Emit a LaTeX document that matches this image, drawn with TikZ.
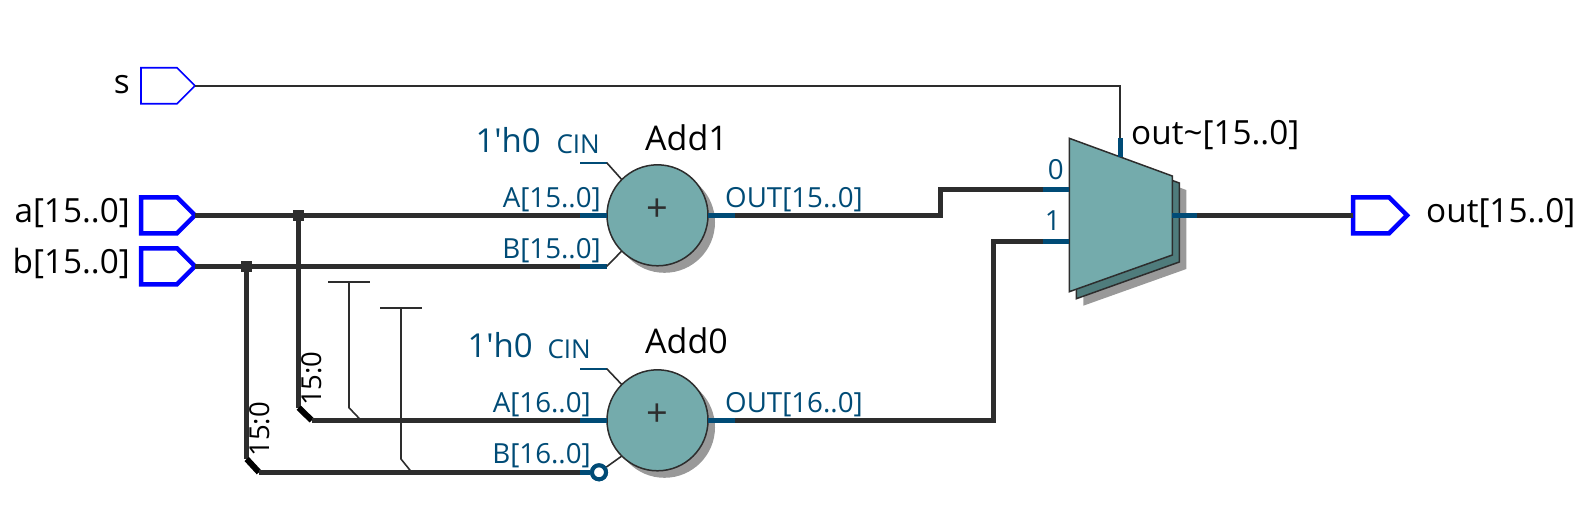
\documentclass[tikz,border=0pt]{standalone}
\usepackage{fontspec}
\setmainfont{Open Sans}
\usepackage{xcolor}
\definecolor{clPort}{HTML}{0000FF}
\definecolor{clPin}{HTML}{004B76}
\definecolor{clWire}{HTML}{2D2D2D}
\definecolor{clBlock}{HTML}{74ABAC}
\definecolor{clBack}{HTML}{4F7C7C}
\definecolor{clShadow}{HTML}{999999}
\usepackage{tikz}
\usetikzlibrary{shapes.symbols,shapes.geometric,shadows}
\tikzset{
  port/.style={signal, signal to=east, signal pointer angle=90, draw=clPort, fill=white,
               minimum width=54pt, minimum height=36pt, inner sep=0pt, outer sep=0pt, anchor=east},
  busport/.style={port, line width=4.5pt},
  bitport/.style={port, line width=1.6pt},
  adder/.style={circle, draw=clWire, fill=clBlock, line width=1.5pt, minimum size=101pt,
                inner sep=0pt, outer sep=0pt,
                drop shadow={shadow xshift=7pt, shadow yshift=-7pt, fill=clShadow, opacity=1}},
  plussign/.style={font=\fontsize{38}{38}\selectfont, text=clWire, inner sep=0pt},
  junction/.style={rectangle, fill=clWire, minimum size=11pt, inner sep=0pt},
  bubble/.style={circle, draw=clPin, fill=white, line width=4pt, minimum size=14pt, inner sep=0pt},
  wire/.style={draw=clWire, line width=1.6pt},
  bus/.style={draw=clWire, line width=5pt},
  bustap/.style={draw=black, line width=6pt},
  pinbus/.style={draw=clPin, line width=5pt},
  pinbit/.style={draw=clPin, line width=2pt},
  bignode/.style={font=\fontsize{33.3}{34}\selectfont, text=black, inner sep=0pt},
  addname/.style={font=\fontsize{34}{34}\selectfont, text=black, inner sep=0pt},
  pinlabel/.style={font=\fontsize{27.7}{28}\selectfont, text=clPin, inner sep=0pt},
  constlabel/.style={font=\fontsize{33}{33}\selectfont, text=clPin, inner sep=0pt},
  cinlabel/.style={font=\fontsize{26}{26}\selectfont, text=clPin, inner sep=0pt},
  tapnode/.style={font=\fontsize{27.5}{28}\selectfont, text=black, inner sep=0pt, rotate=90},
  muxfront/.style={draw=clWire, fill=clBlock, line width=1.5pt},
  muxback/.style={draw=clWire, fill=clBack, line width=1.5pt},
  muxshadow/.style={fill=clShadow},
}
\begin{document}
\begin{tikzpicture}[x=1pt,y=-1pt]
  \useasboundingbox (0,0) rectangle (1587,507);

  % input and output ports
  \node[bitport] (sin) at (195,85.7) {};
  \node[busport] (ain) at (195,215.3) {};
  \node[busport] (bin) at (195,266.3) {};
  \node[busport] (outp) at (1407,215.3) {};
  \node[bignode, anchor=base east] (sname) at (130,93) {s};
  \node[bignode, anchor=base east] (aname) at (130,222.7) {a[15..0]};
  \node[bignode, anchor=base east] (bname) at (130,273.7) {b[15..0]};
  \node[bignode, anchor=base west] (outname) at (1426,222.7) {out[15..0]};

  % pin ends and bends
  \coordinate (add1A) at (580,215.3);
  \coordinate (add1B) at (580,266.3);
  \coordinate (add1C) at (580,162.7);
  \coordinate (add1Bend) at (606.7,266.3);
  \coordinate (add1Cend) at (606.7,162.7);
  \coordinate (add1O) at (735,215.3);
  \coordinate (add0A) at (580,420.3);
  \coordinate (add0B) at (580,472.3);
  \coordinate (add0C) at (580,368.7);
  \coordinate (add0Cend) at (606.7,368.7);
  \coordinate (add0O) at (735,420.3);
  \coordinate (mux0) at (1043,189.3);
  \coordinate (mux0end) at (1069.3,189.3);
  \coordinate (mux1) at (1043,241.3);
  \coordinate (mux1end) at (1069.3,241.3);
  \coordinate (muxS) at (1120,138);
  \coordinate (muxSend) at (1120,157);
  \coordinate (muxO) at (1172.3,215.3);
  \coordinate (muxOend) at (1197,215.3);

  % mux with its two layers
  \foreach \d/\sty in {14/muxshadow,7/muxback,0/muxfront}{
    \path[\sty] (1069.3+\d,138.3+\d) -- (1172.3+\d,176+\d) -- (1172.3+\d,255+\d)
      -- (1069.3+\d,291.7+\d) -- cycle;
  }
  \node[bignode, anchor=base west] (muxname) at (1131,144) {out\char`\~[15..0]};
  \node[pinlabel, anchor=base east] (mux0name) at (1064,179) {0};
  \node[pinlabel, anchor=base east] (mux1name) at (1061,230.7) {1};

  % adders
  \node[adder] (add1) at (657.5,215.3) {};
  \node[adder] (add0) at (657.5,420.3) {};
  \node[plussign] (plus1) at (657,210) {+};
  \node[plussign] (plus0) at (657,415) {+};
  \node[addname, anchor=base west] (add1name) at (645,150) {Add1};
  \node[addname, anchor=base west] (add0name) at (645,353) {Add0};

  \node[constlabel, anchor=base east] (const1) at (541,152.7) {1\textquotesingle h0};
  \node[cinlabel, anchor=base east] (cin1) at (600,153.5) {CIN};
  \node[constlabel, anchor=base east] (const0) at (533,357.7) {1\textquotesingle h0};
  \node[cinlabel, anchor=base east] (cin0) at (591,358.5) {CIN};
  \node[pinlabel, anchor=base east] (a1name) at (601,207.7) {A[15..0]};
  \node[pinlabel, anchor=base east] (b1name) at (601,258.5) {B[15..0]};
  \node[pinlabel, anchor=base east] (a0name) at (591,412) {A[16..0]};
  \node[pinlabel, anchor=base east] (b0name) at (591,463.5) {B[16..0]};
  \node[pinlabel, anchor=base west] (o1name) at (725,207.7) {OUT[15..0]};
  \node[pinlabel, anchor=base west] (o0name) at (725,412) {OUT[16..0]};

  % bit select taps
  \node[junction] (juncA) at (298.7,215.3) {};
  \node[junction] (juncB) at (246.7,266.3) {};
  \coordinate (tapA1) at (298.7,407.7);
  \coordinate (tapA2) at (311.7,420.3);
  \coordinate (tapB1) at (246.7,459);
  \coordinate (tapB2) at (259,472.3);
  \node[tapnode, anchor=base west] (tapAname) at (321,406) {15:0};
  \node[tapnode, anchor=base west] (tapBname) at (269.5,456.7) {15:0};

  % wires
  \draw[wire] (sin.east) -| (muxS);
  \draw[bus] (ain.east) -- (add1A);
  \draw[bus] (bin.east) -- (add1B);
  \draw[bus] (juncA) -- (tapA1);
  \draw[bus] (juncB) -- (tapB1);
  \draw[bustap] (tapA1) -- (tapA2);
  \draw[bustap] (tapB1) -- (tapB2);
  \draw[bus] (tapA2) -- (add0A);
  \draw[bus] (tapB2) -- (add0B);
  \draw[bus] (add1O) -- ++(205,0) |- (mux0);
  \draw[bus] (add0O) -| ++(258,0) |- (mux1);
  \draw[bus] (muxOend) -- (outp.west);

  % pin stubs
  \draw[pinbus] (add1A) -- (add1.west);
  \draw[pinbus] (add1B) -- (add1Bend);
  \draw[pinbit] (add1C) -- (add1Cend);
  \draw[pinbus] (add1.east) -- (add1O);
  \draw[pinbus] (add0A) -- (add0.west);
  \draw[pinbit] (add0C) -- (add0Cend);
  \draw[pinbus] (add0.east) -- (add0O);
  \draw[pinbus] (mux0) -- (mux0end);
  \draw[pinbus] (mux1) -- (mux1end);
  \draw[pinbus] (muxS) -- (muxSend);
  \draw[pinbus] (muxO) -- (muxOend);
  \draw[wire] (add1Bend) -- (add1.-135);
  \draw[wire] (add1Cend) -- (add1.135);
  \draw[wire] (add0Cend) -- (add0.135);

  % inverted input
  \draw[pinbus] (add0B) -- (590,472.3);
  \node[bubble] (inv0) at (599,472.3) {};
  \draw[wire] (inv0) -- (add0.-135);
  \node[bubble] at (inv0) {};

  % unused bit ends
  \coordinate (barAl) at (328,281.7);
  \coordinate (barAr) at (370,281.7);
  \coordinate (stemA0) at (349,281.7);
  \coordinate (stemA1) at (349,407.7);
  \coordinate (stemA2) at (361,420.3);
  \coordinate (barBl) at (380,307.7);
  \coordinate (barBr) at (422,307.7);
  \coordinate (stemB0) at (401,307.7);
  \coordinate (stemB1) at (401,459);
  \coordinate (stemB2) at (411.7,472.3);
  \draw[wire] (barAl) -- (barAr);
  \draw[wire] (stemA0) -- (stemA1) -- (stemA2);
  \draw[wire] (barBl) -- (barBr);
  \draw[wire] (stemB0) -- (stemB1) -- (stemB2);
\end{tikzpicture}
\end{document}
